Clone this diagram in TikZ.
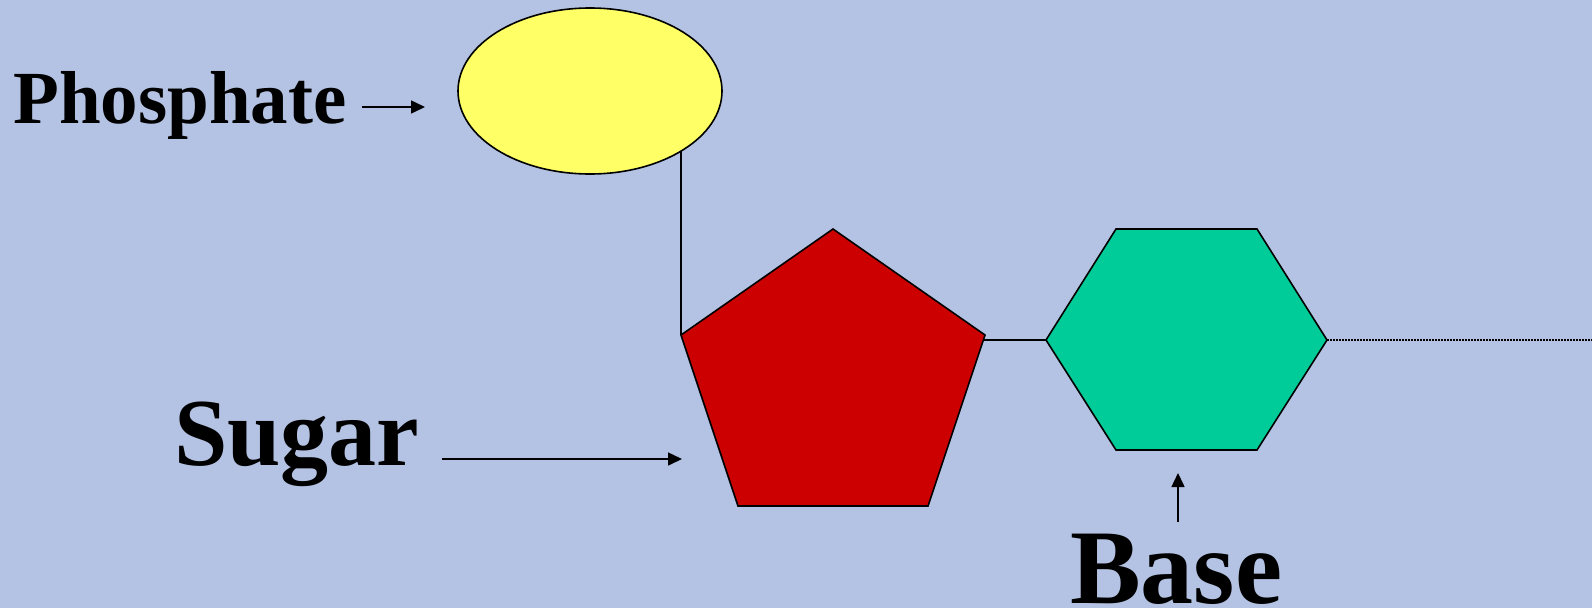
\documentclass[tikz,border=0pt]{standalone}
\usepackage{fontspec}
\setmainfont{Liberation Serif}
\usetikzlibrary{shapes.geometric,arrows.meta}
\definecolor{bgblue}{RGB}{180,195,227}
\definecolor{phyellow}{RGB}{255,255,102}
\definecolor{sugred}{RGB}{204,0,0}
\definecolor{basegreen}{RGB}{0,204,153}
\tikzset{
  outline/.style={draw=black,line width=1.6pt,line join=miter},
  link/.style={draw=black,line width=1.6pt},
  pointer/.style={draw=black,line width=1.5pt,-{Triangle[length=14pt,width=13pt]}},
  label/.style={inner sep=0pt,anchor=base west,font=\bfseries},
  dots/.style={draw=black,line width=1.3pt,dash pattern=on 1.5pt off 1.5pt}
}
\begin{document}
\begin{tikzpicture}[x=1pt,y=-1pt]
\fill[bgblue] (0,0) rectangle (1592,608);
\useasboundingbox (0,0) rectangle (1592,608);

% phosphate
\node[ellipse,outline,fill=phyellow,minimum width=264pt,minimum height=166pt,inner sep=0pt] (E) at (590,91) {};

% sugar pentagon
\coordinate (pT) at (833,229);
\coordinate (pR) at (985,335);
\coordinate (pBR) at (928,506);
\coordinate (pBL) at (738,506);
\coordinate (pL) at (681,335);
\path[outline,fill=sugred] (pT) -- (pR) -- (pBR) -- (pBL) -- (pL) -- cycle;

% base hexagon
\coordinate (hTL) at (1116,229);
\coordinate (hTR) at (1257,229);
\coordinate (hR) at (1327,340);
\coordinate (hBR) at (1257,450);
\coordinate (hBL) at (1116,450);
\coordinate (hL) at (1046,340);
\path[outline,fill=basegreen] (hTL) -- (hTR) -- (hR) -- (hBR) -- (hBL) -- (hL) -- cycle;

% bonds
\draw[link] (pL) -- (pL |- E.-33.4);
\coordinate (pRe) at (983,340);
\draw[link] (pRe) -- (hL);
\coordinate (dotEnd) at (1592,340);
\draw[dots] (hR) -- (dotEnd);

% labels
\node[label,font=\bfseries\fontsize{75}{75}\selectfont] (phT) at (13,123) {Phosphate};
\node[label,font=\bfseries\fontsize{96}{96}\selectfont] (suT) at (174,465) {Sugar};
\node[label,font=\bfseries\fontsize{106}{106}\selectfont] (baT) at (1070,603) {Base};

% pointers
\coordinate (pa1) at (362,107);
\coordinate (pa2) at (425,107);
\draw[pointer] (pa1) -- (pa2);
\coordinate (sa1) at (442,459);
\coordinate (sa2) at (682,459);
\draw[pointer] (sa1) -- (sa2);
\coordinate (ba1) at (1178,522);
\coordinate (ba2) at (1178,473);
\draw[pointer] (ba1) -- (ba2);
\end{tikzpicture}
\end{document}
